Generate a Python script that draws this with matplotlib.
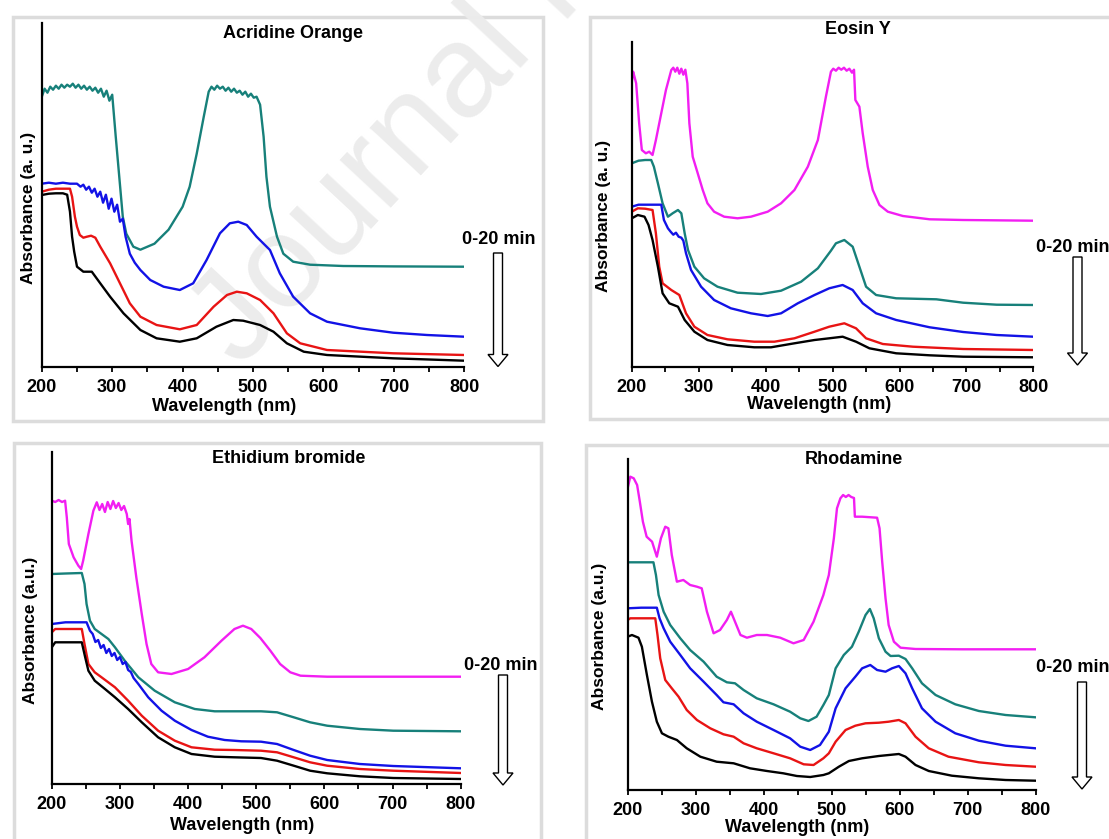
import matplotlib.pyplot as plt
from matplotlib.patches import Rectangle, Polygon

plt.rcParams['font.family'] = ['Liberation Sans', 'DejaVu Sans']

# ---------------- data (absorbance, a.u.) ----------------
# Acridine Orange
ao_teal_wl = [200, 204, 208, 212, 216, 220, 224, 228, 232, 236, 240, 244, 248, 252, 256, 260, 264, 268,
              272, 276, 280, 284, 288, 292, 296, 300, 305, 310, 315, 320, 330, 340, 360, 380, 400, 410,
              420, 430, 437, 441, 445, 449, 453, 457, 461, 465, 469, 473, 477, 481, 485, 489, 493, 497,
              501, 505, 510, 515, 519, 524, 534, 543, 557, 581, 628, 700, 800]
ao_teal = [2.70, 2.78, 2.74, 2.80, 2.77, 2.81, 2.78, 2.82, 2.79, 2.82, 2.80, 2.83, 2.79, 2.82, 2.78, 2.81,
           2.77, 2.80, 2.76, 2.79, 2.74, 2.78, 2.70, 2.76, 2.66, 2.72, 2.30, 1.90, 1.50, 1.33, 1.20, 1.17,
           1.23, 1.37, 1.60, 1.80, 2.13, 2.50, 2.75, 2.80, 2.77, 2.81, 2.78, 2.80, 2.76, 2.79, 2.75, 2.78,
           2.74, 2.76, 2.72, 2.75, 2.70, 2.73, 2.69, 2.70, 2.62, 2.30, 1.90, 1.60, 1.30, 1.13, 1.05, 1.02,
           1.007, 1.003, 1.00]
ao_blue_wl = [200, 210, 220, 230, 240, 250, 255, 259, 263, 267, 271, 275, 279, 283, 287, 291, 295, 299,
              303, 307, 311, 315, 319, 325, 332, 340, 354, 373, 396, 415, 434, 453, 467, 479, 491, 505,
              524, 538, 557, 581, 605, 652, 699, 747, 800]
ao_blue = [1.83, 1.84, 1.83, 1.84, 1.83, 1.83, 1.80, 1.82, 1.77, 1.80, 1.74, 1.78, 1.70, 1.75, 1.64, 1.72,
           1.58, 1.68, 1.55, 1.62, 1.45, 1.48, 1.30, 1.13, 1.04, 0.967, 0.867, 0.80, 0.767, 0.834, 1.067,
           1.334, 1.434, 1.45, 1.417, 1.30, 1.167, 0.934, 0.70, 0.534, 0.45, 0.384, 0.34, 0.317, 0.30]
ao_red_wl = [200, 210, 220, 230, 240, 243, 247, 250, 254, 259, 264, 270, 276, 283, 297, 311, 325, 340,
             363, 396, 420, 444, 463, 477, 491, 510, 529, 548, 567, 605, 699, 800]
ao_red = [1.75, 1.77, 1.78, 1.78, 1.78, 1.70, 1.50, 1.40, 1.317, 1.29, 1.30, 1.31, 1.29, 1.20, 1.034,
          0.834, 0.634, 0.50, 0.417, 0.374, 0.417, 0.60, 0.717, 0.75, 0.734, 0.667, 0.534, 0.334, 0.234,
          0.167, 0.134, 0.117]
ao_black_wl = [200, 210, 220, 230, 236, 240, 243, 246, 250, 259, 271, 283, 297, 316, 340, 363, 396, 420,
               448, 472, 486, 510, 529, 548, 572, 605, 699, 800]
ao_black = [1.717, 1.73, 1.734, 1.734, 1.72, 1.55, 1.30, 1.15, 1.00, 0.95, 0.95, 0.834, 0.70, 0.534,
            0.367, 0.284, 0.25, 0.284, 0.40, 0.467, 0.46, 0.417, 0.35, 0.234, 0.15, 0.117, 0.084, 0.06]

# Eosin Y
ey_mag_wl = [200, 202, 204, 206.5, 211, 215, 221, 226, 231, 236, 244, 251, 259, 262, 265, 268, 271, 274,
             277, 280, 283, 286, 291, 298.5, 306, 313, 323, 338, 358, 378, 403, 423, 443, 463, 478, 490,
             497.5, 501, 505, 509, 513, 517, 521, 525, 529, 532, 534, 540, 545, 552.5, 560, 570, 582.5,
             605, 645, 695, 800]
ey_mag = [2.85, 2.95, 2.90, 2.834, 2.434, 2.167, 2.134, 2.15, 2.117, 2.267, 2.534, 2.767, 2.967, 2.99,
          2.95, 2.99, 2.93, 2.98, 2.92, 2.97, 2.834, 2.434, 2.10, 1.934, 1.767, 1.634, 1.55, 1.50, 1.484,
          1.50, 1.55, 1.634, 1.767, 2.00, 2.267, 2.70, 2.95, 2.98, 2.96, 2.99, 2.97, 2.99, 2.96, 2.98, 2.94,
          2.97, 2.667, 2.60, 2.334, 2.00, 1.767, 1.617, 1.55, 1.507, 1.474, 1.467, 1.46]
ey_teal_wl = [200, 210, 220, 229, 233, 239, 246, 254, 261, 269, 274, 279, 284, 293.5, 308, 328, 358, 393,
              423, 453, 478, 497.5, 505, 517.5, 530, 540, 550, 565, 595, 655, 695, 745, 800]
ey_teal = [2.034, 2.06, 2.067, 2.067, 2.00, 1.834, 1.634, 1.50, 1.534, 1.567, 1.534, 1.334, 1.167, 1.00,
           0.884, 0.80, 0.74, 0.727, 0.76, 0.85, 0.984, 1.16, 1.234, 1.267, 1.20, 1.00, 0.80, 0.717, 0.684,
           0.674, 0.64, 0.62, 0.617]
ey_blue_wl = [200, 210, 220, 230, 240, 244, 248, 254, 258, 262, 266, 270, 274, 277, 281, 288.5, 303.5, 323,
              348, 378, 403, 423, 448, 473, 495, 515, 530, 545, 565, 595, 645, 695, 745, 800]
ey_blue = [1.60, 1.62, 1.62, 1.62, 1.62, 1.62, 1.467, 1.384, 1.35, 1.32, 1.34, 1.30, 1.29, 1.26, 1.134,
           0.967, 0.80, 0.667, 0.584, 0.534, 0.507, 0.534, 0.634, 0.717, 0.784, 0.817, 0.767, 0.634, 0.534,
           0.467, 0.394, 0.347, 0.317, 0.30]
ey_red_wl = [200, 209, 220, 231, 236, 241, 246, 259, 271, 281, 293.5, 313, 343, 383, 413, 443, 473, 495,
             517.5, 535, 550, 575, 620, 695, 800]
ey_red = [1.55, 1.584, 1.58, 1.567, 1.334, 1.00, 0.834, 0.767, 0.717, 0.534, 0.40, 0.317, 0.274, 0.25,
          0.25, 0.284, 0.35, 0.40, 0.434, 0.384, 0.284, 0.227, 0.20, 0.177, 0.167]
ey_black_wl = [200, 209, 219, 225, 231, 239, 246, 256, 269, 279, 293.5, 313, 343, 383, 408, 443, 473, 495,
               515, 535, 555, 595, 645, 695, 800]
ey_black = [1.484, 1.517, 1.50, 1.417, 1.267, 1.00, 0.734, 0.634, 0.60, 0.467, 0.35, 0.267, 0.217, 0.194,
            0.194, 0.234, 0.267, 0.284, 0.30, 0.25, 0.184, 0.134, 0.114, 0.10, 0.094]

# Ethidium bromide
eb_mag_wl = [200, 205, 210, 215, 219.5, 222, 225, 232, 239, 243, 246, 253.7, 261, 266, 270, 274, 278, 282,
             286, 290, 294, 298, 302, 306, 310, 312, 314, 317, 324, 332, 339, 346, 356, 375.6, 400, 424,
             449, 468, 480.5, 492.7, 506, 520.7, 535, 550, 565, 604, 800]
eb_mag = [2.833, 2.82, 2.84, 2.82, 2.833, 2.667, 2.40, 2.267, 2.183, 2.15, 2.233, 2.50, 2.733, 2.817, 2.74,
          2.80, 2.72, 2.82, 2.75, 2.83, 2.76, 2.81, 2.74, 2.78, 2.70, 2.60, 2.65, 2.433, 2.067, 1.70, 1.40,
          1.20, 1.117, 1.10, 1.15, 1.267, 1.433, 1.55, 1.583, 1.55, 1.46, 1.333, 1.20, 1.117, 1.083, 1.073,
          1.073]
eb_teal_wl = [200, 220, 244, 248, 251, 256, 263, 273, 283, 292.7, 307, 327, 351, 380.5, 409.8, 439, 468,
              507, 530.5, 555, 579, 604, 652, 701, 800]
eb_teal = [2.10, 2.105, 2.11, 2.00, 1.80, 1.633, 1.55, 1.50, 1.45, 1.367, 1.233, 1.067, 0.933, 0.817, 0.75,
           0.727, 0.727, 0.727, 0.717, 0.667, 0.617, 0.583, 0.55, 0.533, 0.527]
eb_blue_wl = [200, 220, 240, 251, 256, 260, 264, 268, 272, 276, 280, 284, 288, 292, 296, 300, 304, 308,
              312, 316, 320, 327, 341.5, 361, 380.5, 405, 429, 453.7, 478, 507, 530.5, 555, 579, 604, 652,
              701, 800]
eb_blue = [1.60, 1.617, 1.617, 1.617, 1.533, 1.50, 1.42, 1.44, 1.36, 1.39, 1.31, 1.35, 1.28, 1.31, 1.24,
           1.27, 1.20, 1.22, 1.14, 1.12, 1.06, 1.00, 0.867, 0.733, 0.633, 0.54, 0.473, 0.44, 0.427, 0.423,
           0.40, 0.34, 0.283, 0.24, 0.20, 0.18, 0.157]
eb_red_wl = [200, 205, 220, 244, 248, 253.7, 263, 273, 292.7, 312, 332, 356, 380.5, 405, 439, 468, 507,
             530.5, 555, 579, 604, 652, 701, 800]
eb_red = [1.517, 1.55, 1.55, 1.55, 1.40, 1.20, 1.117, 1.067, 0.967, 0.833, 0.683, 0.533, 0.433, 0.367,
          0.343, 0.34, 0.333, 0.317, 0.267, 0.217, 0.183, 0.15, 0.133, 0.11]
eb_black_wl = [200, 205, 220, 244, 249, 253.7, 263, 278, 292.7, 312, 332, 356, 380.5, 405, 439, 468, 507,
               530.5, 555, 579, 604, 652, 701, 800]
eb_black = [1.367, 1.417, 1.417, 1.417, 1.267, 1.133, 1.033, 0.95, 0.867, 0.75, 0.617, 0.467, 0.367, 0.30,
            0.273, 0.267, 0.26, 0.233, 0.183, 0.133, 0.107, 0.077, 0.06, 0.05]

# Rhodamine
rh_mag_wl = [200, 204, 209, 214, 218, 222.5, 228, 236, 243, 249, 255.4, 260, 265, 272.5, 282, 292, 302,
             309, 316.7, 326.5, 336, 346, 352, 358, 366, 375.5, 390, 405, 424.5, 444, 459, 473.5, 488, 496,
             503.4, 508, 513, 517, 521, 525, 529, 533, 534.3, 545, 567, 570.6, 574.5, 579.4, 584, 591.7,
             601.5, 623.5, 692, 800]
rh_mag = [3.017, 3.133, 3.117, 3.05, 2.883, 2.683, 2.533, 2.483, 2.333, 2.517, 2.633, 2.617, 2.35, 2.083,
          2.10, 2.05, 2.033, 2.017, 1.783, 1.567, 1.60, 1.70, 1.783, 1.683, 1.55, 1.523, 1.55, 1.55, 1.523,
          1.467, 1.50, 1.683, 1.95, 2.15, 2.517, 2.817, 2.917, 2.95, 2.93, 2.95, 2.93, 2.92, 2.733, 2.733,
          2.723, 2.617, 2.283, 1.917, 1.65, 1.483, 1.423, 1.41, 1.407, 1.407]
rh_teal_wl = [200, 220, 238, 241.7, 245.6, 253, 262.7, 277.5, 292, 311.8, 331, 346, 358, 370.6, 390, 414.7,
              439, 454, 466, 478, 488, 496, 506, 518, 530, 540, 550, 556.4, 562, 569.6, 579.4, 586.8, 599,
              608.8, 618.6, 633, 653, 682, 716.7, 756, 800]
rh_teal = [2.277, 2.277, 2.277, 2.15, 1.95, 1.783, 1.65, 1.517, 1.40, 1.283, 1.133, 1.077, 1.067, 1.00,
           0.917, 0.857, 0.783, 0.717, 0.69, 0.733, 0.85, 0.95, 1.217, 1.35, 1.433, 1.583, 1.75, 1.81, 1.717,
           1.517, 1.383, 1.34, 1.343, 1.31, 1.217, 1.067, 0.95, 0.857, 0.79, 0.75, 0.727]
rh_blue_wl = [200, 220, 243, 247, 253, 262.7, 277.5, 292, 311.8, 331, 341, 356, 370.6, 390, 414.7, 439, 454,
              468.6, 483, 496, 506, 520.6, 535, 545, 557, 567, 579.4, 589, 599, 608.8, 618.6, 633, 653, 682,
              716.7, 756, 800]
rh_blue = [1.817, 1.823, 1.823, 1.717, 1.617, 1.483, 1.35, 1.217, 1.083, 0.95, 0.877, 0.857, 0.767, 0.683,
           0.60, 0.517, 0.433, 0.40, 0.45, 0.583, 0.817, 1.017, 1.133, 1.217, 1.25, 1.20, 1.183, 1.217, 1.24,
           1.167, 1.017, 0.817, 0.683, 0.567, 0.493, 0.443, 0.417]
rh_red_wl = [200, 204, 220, 240.7, 244, 248, 255.4, 265, 275, 287, 302, 321.6, 341, 356, 370.6, 390, 414.7,
             439, 459, 473.5, 488, 496, 506, 520.6, 535, 550, 569.6, 584, 599, 608.8, 623.5, 643, 672, 716.7,
             756, 800]
rh_red = [1.70, 1.717, 1.717, 1.717, 1.55, 1.317, 1.10, 1.017, 0.933, 0.80, 0.70, 0.617, 0.557, 0.533,
          0.467, 0.417, 0.367, 0.317, 0.257, 0.25, 0.317, 0.367, 0.483, 0.60, 0.643, 0.667, 0.673, 0.683,
          0.70, 0.667, 0.533, 0.417, 0.333, 0.277, 0.25, 0.233]
rh_black_wl = [200, 206.4, 216, 221, 228.4, 235.8, 243, 250.5, 260, 272.5, 287, 307, 331, 356, 380, 405,
               429, 449, 468.6, 488, 496, 510.8, 525.5, 545, 569.6, 599, 608.8, 623.5, 643, 677, 716.7, 756,
               800]
rh_black = [1.533, 1.55, 1.523, 1.433, 1.15, 0.883, 0.683, 0.567, 0.533, 0.50, 0.417, 0.333, 0.283, 0.267,
            0.217, 0.19, 0.167, 0.14, 0.13, 0.15, 0.167, 0.233, 0.29, 0.317, 0.34, 0.36, 0.333, 0.25, 0.19,
            0.143, 0.117, 0.10, 0.093]

xticks = [200, 300, 400, 500, 600, 700, 800]

TEAL, BLUE, RED, MAG, BLK = '#17807a', '#1212e6', '#e81414', '#f21ef2', '#000000'

W, H = 1109, 839
fig = plt.figure(figsize=(W / 100, H / 100), dpi=100)


def fx(x):
    return x / W


def fy(y):
    return 1 - y / H


panels = [
    dict(title='Acridine Orange', ylabel='Absorbance (a. u.)', box=(41.8, 23.3, 464.3, 366.7),
         title_xy=(293, 33), ylab_xy=(28.6, 207.5), xlab_xy=(224.6, 406.7), min_xy=(462.5, 240),
         arrow=(498, 253, 366.5), card=(12.5, 16.7, 543, 421),
         curves=[(ao_teal_wl, ao_teal, TEAL), (ao_blue_wl, ao_blue, BLUE),
                 (ao_red_wl, ao_red, RED), (ao_black_wl, ao_black, BLK)]),
    dict(title='Eosin Y', ylabel='Absorbance (a. u.)', box=(631.8, 41.7, 1033.4, 366.7),
         title_xy=(857.6, 30), ylab_xy=(603.8, 215.8), xlab_xy=(819, 405), min_xy=(1036, 247),
         arrow=(1077.5, 257, 365), card=(590, 16.7, 1115, 419),
         curves=[(ey_mag_wl, ey_mag, MAG), (ey_teal_wl, ey_teal, TEAL), (ey_blue_wl, ey_blue, BLUE),
                 (ey_red_wl, ey_red, RED), (ey_black_wl, ey_black, BLK)]),
    dict(title='Ethidium bromide', ylabel='Absorbance (a.u.)', box=(51.8, 451.7, 460.7, 784),
         title_xy=(289, 458.3), ylab_xy=(30.4, 630), xlab_xy=(242, 826), min_xy=(464, 665),
         arrow=(503, 675, 785), card=(14, 443, 541, 850),
         curves=[(eb_mag_wl, eb_mag, MAG), (eb_teal_wl, eb_teal, TEAL), (eb_blue_wl, eb_blue, BLUE),
                 (eb_red_wl, eb_red, RED), (eb_black_wl, eb_black, BLK)]),
    dict(title='Rhodamine', ylabel='Absorbance (a.u.)', box=(627.6, 459.3, 1035.5, 790),
         title_xy=(854, 459.3), ylab_xy=(599.2, 636.7), xlab_xy=(797.5, 827.3), min_xy=(1036, 668),
         arrow=(1082, 682, 789), card=(586, 445, 1115, 850),
         curves=[(rh_mag_wl, rh_mag, MAG), (rh_teal_wl, rh_teal, TEAL), (rh_blue_wl, rh_blue, BLUE),
                 (rh_red_wl, rh_red, RED), (rh_black_wl, rh_black, BLK)]),
]

# faint watermark across the top-left panel
fig.text(fx(240), fy(370), 'Journal Pre-proof', rotation=47, rotation_mode='anchor',
         ha='left', va='baseline', fontsize=95, color='#ececec', zorder=-1)

for p in panels:
    # card behind each panel
    x0, y0, x1, y1 = p['card']
    fig.patches.append(Rectangle((fx(x0), fy(y1)), (x1 - x0) / W, (y1 - y0) / H,
                                 transform=fig.transFigure, facecolor='white',
                                 edgecolor='#dcdcdc', linewidth=2.5, zorder=-2))

    x0, y0, x1, y1 = p['box']
    ax = fig.add_axes([fx(x0), fy(y1), (x1 - x0) / W, (y1 - y0) / H])
    ax.set_facecolor('none')
    for wl, a, c in p['curves']:
        ax.plot(wl, a, color=c, lw=1.7)
    ax.set_xlim(200, 800)
    ax.set_ylim(0, (y1 - y0) / 100)
    ax.spines[['top', 'right']].set_visible(False)
    ax.spines[['left', 'bottom']].set_linewidth(1.6)
    ax.set_yticks([])
    ax.set_xticks(xticks)
    ax.set_xticks([250, 350, 450, 550, 650, 750], minor=True)
    ax.tick_params(axis='x', which='both', direction='out', length=3.5, width=1.3, pad=5, labelsize=13)
    for lab in ax.get_xticklabels():
        lab.set_fontweight('bold')

    fig.text(fx(p['title_xy'][0]), fy(p['title_xy'][1]), p['title'], ha='center', va='center',
             fontsize=13, fontweight='bold')
    fig.text(fx(p['xlab_xy'][0]), fy(p['xlab_xy'][1]), 'Wavelength (nm)', ha='center', va='center',
             fontsize=13, fontweight='bold')
    fig.text(fx(p['ylab_xy'][0]), fy(p['ylab_xy'][1]), p['ylabel'], rotation=90, ha='center',
             va='center', fontsize=12.5, fontweight='bold')
    fig.text(fx(p['min_xy'][0]), fy(p['min_xy'][1]), '0-20 min', ha='left', va='center',
             fontsize=13, fontweight='bold')

    # hollow down arrow
    cx, top, bot = p['arrow']
    sw, hw, hl = 4.5, 10, 12
    pts = [(cx - sw, top), (cx + sw, top), (cx + sw, bot - hl), (cx + hw, bot - hl), (cx, bot),
           (cx - hw, bot - hl), (cx - sw, bot - hl)]
    fig.patches.append(Polygon([(fx(a), fy(b)) for a, b in pts], closed=True,
                               transform=fig.transFigure, facecolor='white',
                               edgecolor='black', linewidth=1))

fig.savefig('out.png', dpi=100)
